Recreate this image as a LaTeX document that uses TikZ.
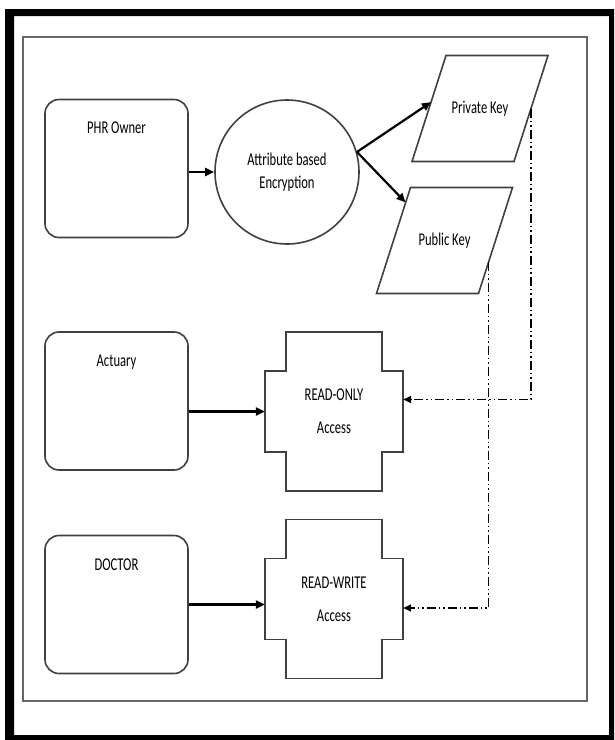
\documentclass[tikz,border=0pt]{standalone}
\usepackage{fontspec}
\setmainfont{Carlito}[FakeStretch=0.7]
\usetikzlibrary{calc,arrows.meta}

\tikzset{
	every node/.style={font=\fontsize{18}{23}\selectfont},
	shapeline/.style={draw=black!75, line width=1.6pt},
	usernode/.style={shapeline, rounded corners=14pt, minimum width=143pt, minimum height=138pt},
	keynode/.style={inner sep=0pt, outer sep=0pt, minimum width=136pt, minimum height=106pt},
	accessnode/.style={minimum width=138pt, minimum height=159pt, align=center},
	flow/.style={-{Triangle[length=9pt,width=8pt]}, line width=2.2pt},
	keyflow/.style={-{Triangle[length=8pt,width=7pt]}, line width=1.5pt, dash pattern=on 9pt off 3pt on 1.5pt off 3pt on 1.5pt off 3pt},
}

\begin{document}
\begin{tikzpicture}[x=1pt,y=-1pt]
			\useasboundingbox (0,0) rectangle (614,740);
			\fill[even odd rule] (5,9) rectangle (614,740) (14,16) rectangle (609,735);
			\draw[black!60, line width=1.4pt] (23,37) rectangle (587,701);
			% users
			\node[usernode, label={[anchor=north,yshift=-20pt]north:PHR Owner}] (owner) at (116.5,168.5) {};
			\node[usernode, label={[anchor=north,yshift=-20pt]north:Actuary}] (actuary) at (116.5,401) {};
			\node[usernode, label={[anchor=north,yshift=-21pt]north:DOCTOR}] (doctor) at (116.5,604.5) {};
			% encryption and keys
			\node[shapeline, circle, minimum size=144pt, align=center] (enc) at (287,172) {Attribute based\\Encryption};
			\node[keynode] (priv) at (480,108.5) {Private Key};
			\node[keynode] (pub) at (444.5,240.5) {Public Key};
			\foreach \n in {priv,pub}
				\draw[shapeline] ($(\n.north west)+(34,0)$) -- (\n.north east)
					-- ($(\n.south east)+(-34,0)$) -- (\n.south west) -- cycle;
			% access
			\node[accessnode] (ronly) at (334,411.5) {READ-ONLY\\[10pt]Access};
			\node[accessnode] (rwrite) at (334,599) {READ-WRITE\\[10pt]Access};
			\foreach \n in {ronly,rwrite}
				\draw[shapeline] (\n.north west) ++(21,0) -- ++(96,0) -- ++(0,39) -- ++(21,0) -- ++(0,81)
					-- ++(-21,0) -- ++(0,39) -- ++(-96,0) -- ++(0,-39) -- ++(-21,0) -- ++(0,-81) -- ++(21,0) -- cycle;
			% connectors
			\draw[flow] (owner.east |- enc.west) -- (enc.west);
			\draw[flow] (enc.16) -- ($(priv.north west)!0.44!(priv.south west)+(19,0)$);
			\draw[flow] (enc.16) -- ($(pub.north west)!0.14!(pub.south west)+(29,0)$);
			\draw[flow] (actuary.east |- ronly.west) -- (ronly.west);
			\draw[flow] (doctor.east) -- (doctor.east -| rwrite.west);
			\draw[keyflow] ($(priv.north east)!0.5!(priv.south east)+(-17,0)$) |- ([yshift=12pt]ronly.east);
			\draw[keyflow] ($(pub.north east)!0.7!(pub.south east)+(-24,0)$) |- ([yshift=-9pt]rwrite.east);
		\end{tikzpicture}
\end{document}
